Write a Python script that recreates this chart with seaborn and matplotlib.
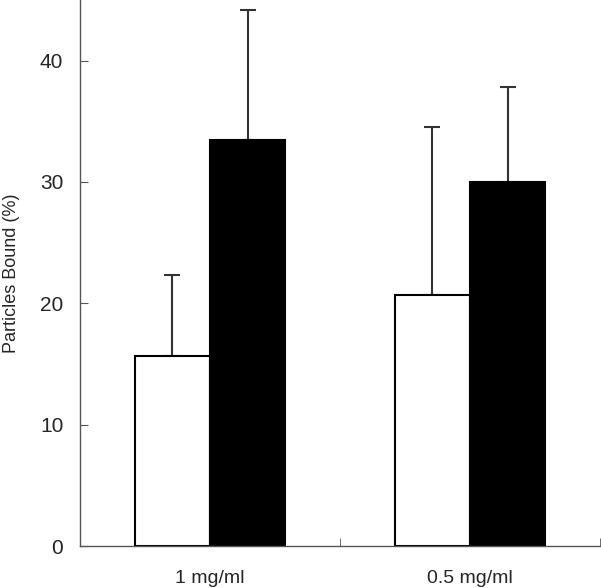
import matplotlib

matplotlib.use("Agg")
import matplotlib.pyplot as plt
import pandas as pd
import seaborn as sns

# Values
concentrations = ["1 mg/ml", "0.5 mg/ml"]
groups = ["Control", "Treated"]
white_means = [15.7, 20.7]
black_means = [33.5, 30.0]
white_errs = [6.6, 13.8]
black_errs = [10.7, 7.8]
y_ticks = [0, 10, 20, 30, 40]

df = pd.DataFrame({
    "conc": concentrations * 2,
    "group": [groups[0]] * 2 + [groups[1]] * 2,
    "bound": white_means + black_means,
    "err": white_errs + black_errs,
})

sns.set_style("ticks")
plt.rcParams["font.family"] = ["Liberation Sans", "DejaVu Sans"]

fig = plt.figure(figsize=(6.01, 5.88), dpi=100)
ax = fig.add_axes([80 / 601, 42 / 588, 520 / 601, 546 / 588])

sns.barplot(
    data=df, x="conc", y="bound", hue="group", order=concentrations,
    hue_order=groups, palette={"Control": "white", "Treated": "black"},
    edgecolor="black", linewidth=1.5, width=0.577, errorbar=None,
    legend=False, ax=ax,
)

# upward-only error bars on top of each bar
for patch, (_, row) in zip(ax.patches, df.iterrows()):
    x = patch.get_x() + patch.get_width() / 2
    ax.errorbar(x, row["bound"], yerr=[[0], [row["err"]]], fmt="none",
                ecolor="#333333", elinewidth=1.5, capsize=6, capthick=1.5,
                zorder=0)

ax.set_xlim(-0.5, 1.5)
ax.set_ylim(0, 45)
ax.set_yticks(y_ticks)
ax.set_xlabel("")
ax.set_ylabel("Particles Bound (%)", fontsize=13)
ax.yaxis.set_label_coords(-0.115, 0.5)
ax.tick_params(axis="y", direction="in", length=6, labelsize=15, pad=12,
               color="#555555")
ax.tick_params(axis="x", which="major", length=0, labelsize=14, pad=17)
ax.set_xticks([0.5, 1.5], minor=True)
ax.tick_params(axis="x", which="minor", direction="in", length=6,
               color="#555555")
sns.despine(ax=ax)
for side in ["left", "bottom"]:
    ax.spines[side].set_color("#555555")
    ax.spines[side].set_linewidth(1.0)

fig.savefig("out.png", dpi=100)
